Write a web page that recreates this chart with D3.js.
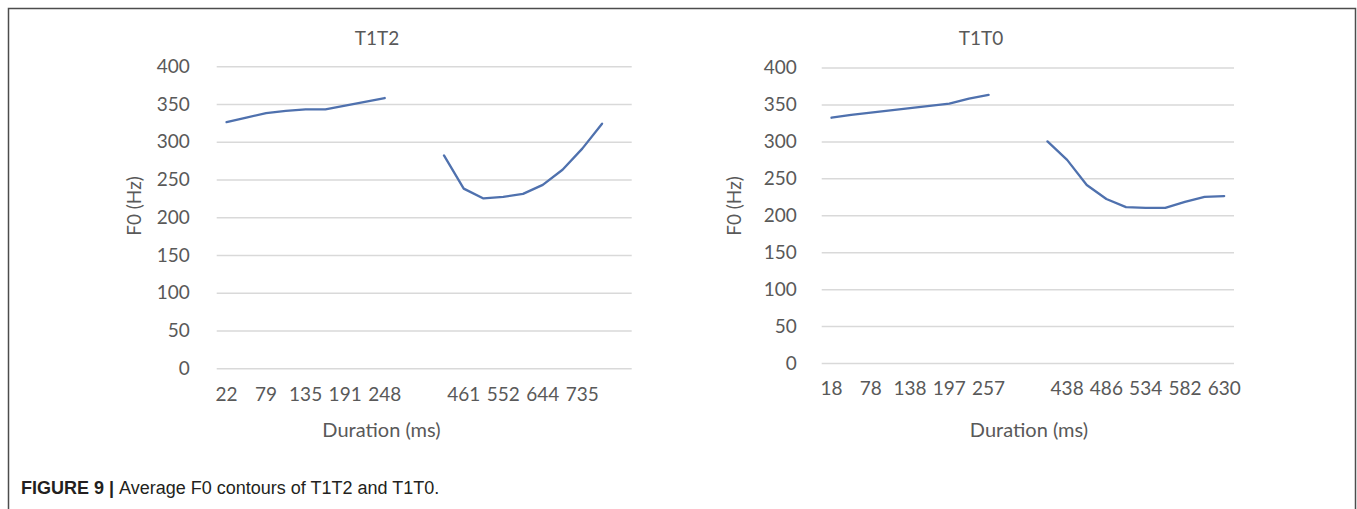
<!DOCTYPE html>
<html>
<head>
<meta charset="utf-8">
<script src="https://cdn.jsdelivr.net/npm/d3@7"></script>
<style>
  html, body { margin: 0; padding: 0; background: #fff; }
  svg { display: block; }
  .tick text { font-family: Lato, "Open Sans", sans-serif; fill: #595959; }
</style>
</head>
<body>
<svg id="chart" width="1357" height="509"></svg>
<script>
// ---- Data ----
const yTicks = [0, 50, 100, 150, 200, 250, 300, 350, 400];

// T1T2: 21 category slots, labels shown every other slot
const labelsT1T2 = ["22","","79","","135","","191","","248","","","","461","","552","","644","","735","",""];
const valuesT1T2 = [326,332,338,341,343,343,348,353,358,null,null,282,238,225,227,231,243,263,291,324,null];

// T1T0
const labelsT1T0 = ["18","","78","","138","","197","","257","","","","438","","486","","534","","582","","630"];
const valuesT1T0 = [332,336,339,342,345,348,351,358,363,null,null,300,275,241,222,211,210,210,218,225,226];

const charts = [
  { title: "T1T2", labels: labelsT1T2, values: valuesT1T2,
    x0: 216.7, x1: 631.7, yTop: 66.3, yBot: 368.3,
    titleX: 377, axisTitleX: 381.5, yTitleX: 134, tickPad: 27 },
  { title: "T1T0", labels: labelsT1T0, values: valuesT1T0,
    x0: 821.7, x1: 1234, yTop: 67.5, yBot: 363,
    titleX: 981, axisTitleX: 1029, yTitleX: 734, tickPad: 25 }
];

const svg = d3.select("#chart");

// frame
svg.append("path")
  .attr("d", "M8.5,515 V8.5 H1355.5 V515")
  .attr("fill", "none").attr("stroke", "#4d4d4d").attr("stroke-width", 1.5);

charts.forEach(c => {
  const idx = d3.range(c.labels.length);
  const x = d3.scaleBand().domain(idx).range([c.x0, c.x1]).padding(0);
  const y = d3.scaleLinear().domain([0, 400]).range([c.yBot, c.yTop]);
  const g = svg.append("g");

  // gridlines
  g.append("g")
    .attr("transform", `translate(${c.x0},0)`)
    .call(d3.axisLeft(y).tickValues(yTicks).tickSize(-(c.x1 - c.x0)).tickFormat(""))
    .call(s => s.select(".domain").remove())
    .call(s => s.selectAll("line").attr("stroke", "#d9d9d9").attr("stroke-width", 1.5));

  // y tick labels
  g.append("g")
    .attr("transform", `translate(${c.x0},0)`)
    .call(d3.axisLeft(y).tickValues(yTicks).tickSize(0).tickPadding(c.tickPad))
    .call(s => s.select(".domain").remove())
    .call(s => s.selectAll("text").attr("font-size", 19));

  // x tick labels
  g.append("g")
    .attr("transform", `translate(0,${c.yBot})`)
    .call(d3.axisBottom(x).tickSize(0).tickPadding(19).tickFormat(i => c.labels[i]))
    .call(s => s.select(".domain").remove())
    .call(s => s.selectAll("text").attr("font-size", 19));

  // line
  const line = d3.line()
    .defined(d => d != null)
    .x((d, i) => x(i) + x.bandwidth() / 2)
    .y(d => y(d));
  g.append("path")
    .datum(c.values)
    .attr("d", line)
    .attr("fill", "none")
    .attr("stroke", "#4f71ae")
    .attr("stroke-width", 2.3)
    .attr("stroke-linejoin", "round")
    .attr("stroke-linecap", "round");

  // chart title
  g.append("text")
    .attr("x", c.titleX).attr("y", 45)
    .attr("text-anchor", "middle")
    .attr("font-family", "Lato, sans-serif").attr("font-size", 19)
    .attr("fill", "#595959")
    .text(c.title);

  // x axis title
  g.append("text")
    .attr("x", c.axisTitleX).attr("y", 437)
    .attr("text-anchor", "middle")
    .attr("font-family", "Lato, sans-serif").attr("font-size", 20)
    .attr("fill", "#595959")
    .text("Duration (ms)");

  // y axis title
  g.append("text")
    .attr("transform", `translate(${c.yTitleX + 7},206) rotate(-90)`)
    .attr("text-anchor", "middle")
    .attr("font-family", "Lato, sans-serif").attr("font-size", 19)
    .attr("fill", "#595959")
    .text("F0 (Hz)");
});

// caption
const cap = svg.append("text")
  .attr("x", 21).attr("y", 494)
  .attr("font-family", "'Liberation Sans Narrow', 'Arial Narrow', 'Liberation Sans', sans-serif")
  .attr("font-size", 18)
  .attr("fill", "#231f20");
cap.append("tspan").attr("font-weight", "bold").text("FIGURE 9 | ");
cap.append("tspan").text("Average F0 contours of T1T2 and T1T0.");
</script>
</body>
</html>
